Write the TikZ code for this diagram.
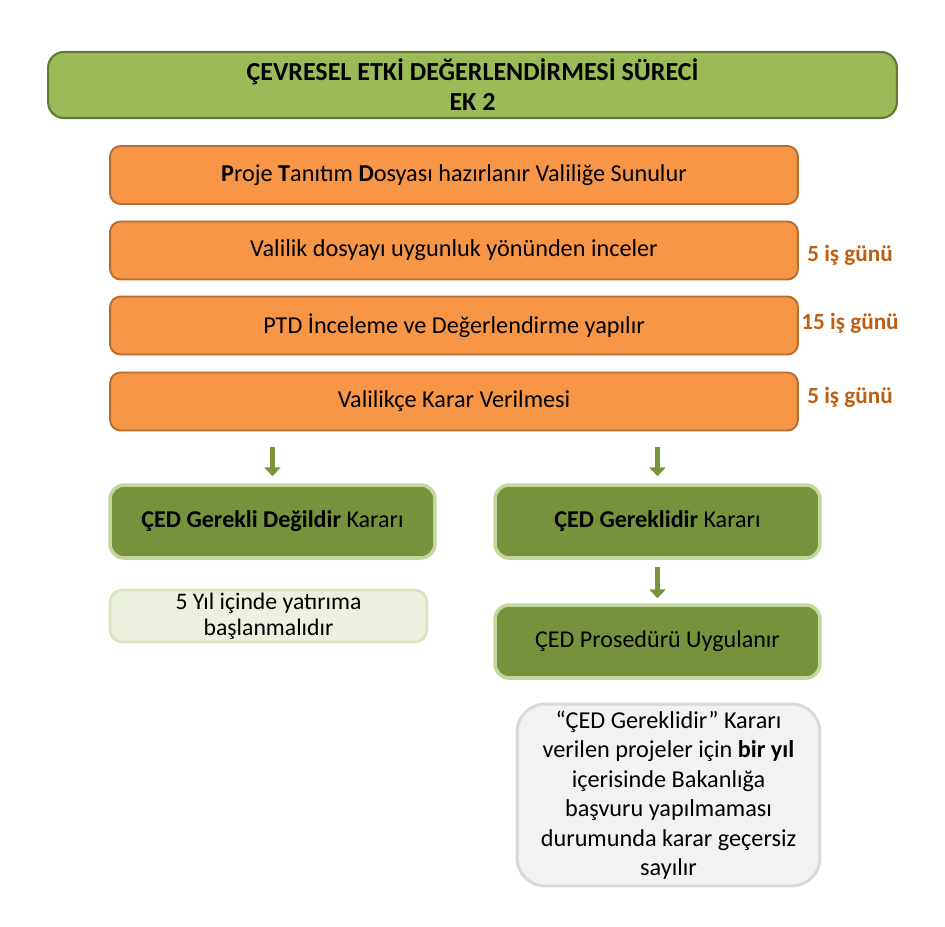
\documentclass[tikz,border=0pt]{standalone}
\usepackage{fontspec}
\setmainfont{Carlito}
\usetikzlibrary{arrows.meta,positioning}
\definecolor{titleGreen}{HTML}{9BBB59}
\definecolor{titleEdge}{HTML}{627A33}
\definecolor{stepOrange}{HTML}{F79646}
\definecolor{stepEdge}{HTML}{B66D31}
\definecolor{dayText}{HTML}{BD5E12}
\definecolor{decGreen}{HTML}{76923C}
\definecolor{decEdge}{HTML}{C3D69B}
\definecolor{noteFill}{HTML}{EBF1DE}
\definecolor{noteEdge}{HTML}{D7E4BD}
\definecolor{warnFill}{HTML}{F2F2F2}
\definecolor{warnEdge}{HTML}{D9D9D9}
\definecolor{arrGreen}{HTML}{77933C}

\begin{document}
\begin{tikzpicture}[x=0.02cm,y=-0.02cm,
  titlebox/.style={draw=titleEdge,line width=1.2pt,fill=titleGreen,rounded corners=9pt,
    minimum width=16.98cm,minimum height=1.32cm,align=center,inner sep=1pt,
    font=\fontsize{14.8}{17.2}\selectfont\bfseries},
  stepbox/.style={draw=stepEdge,line width=1.1pt,fill=stepOrange,rounded corners=6pt,
    minimum width=13.76cm,minimum height=1.16cm,align=center,
    font=\fontsize{13.8}{16}\selectfont},
  days/.style={text=dayText,font=\fontsize{13.2}{15}\selectfont\bfseries,inner sep=0pt},
  decbox/.style={draw=decEdge,line width=2pt,fill=decGreen,rounded corners=8pt,
    minimum width=6.5cm,minimum height=1.46cm,align=center,
    font=\fontsize{13.7}{16}\selectfont},
  notebox/.style={draw=noteEdge,line width=1.6pt,fill=noteFill,rounded corners=7pt,
    minimum width=6.34cm,minimum height=1.04cm,align=center,inner sep=0pt,
    font=\fontsize{13.5}{14.8}\selectfont},
  warnbox/.style={draw=warnEdge,line width=1.7pt,fill=warnFill,rounded corners=16pt,
    minimum width=6.06cm,minimum height=3.64cm,align=center,inner sep=1pt,
    font=\fontsize{13.8}{16.8}\selectfont},
  arr/.style={-{Triangle[width=9pt,length=5pt]},arrGreen,line width=2.5pt}
]
  \useasboundingbox (0,0) rectangle (945,926);
  \node[titlebox] (title) at (472.5,85) {ÇEVRESEL ETKİ DEĞERLENDİRMESİ SÜRECİ\\EK 2};

  \node[stepbox] (ptd) at (454,175) {\textbf{P}roje \textbf{T}anıtım \textbf{D}osyası hazırlanır Valiliğe Sunulur};
  \node[stepbox] (check) at (454,250.5) {Valilik dosyayı uygunluk yönünden inceler};
  \node[stepbox] (review) at (454,325.5) {PTD İnceleme ve Değerlendirme yapılır};
  \node[stepbox] (decide) at (454,401.5) {Valilikçe Karar Verilmesi};

  \node[days] (d1) at (850,255) {5 iş günü};
  \node[days] (d2) at (850,323) {15 iş günü};
  \node[days] (d3) at (850,397) {5 iş günü};

  \node[decbox] (notreq) at (272.5,521.5) {\textbf{ÇED Gerekli Değildir} Kararı};
  \node[decbox] (req) at (657.5,521.5) {\textbf{ÇED Gereklidir} Kararı};
  \node[notebox] (fiveyr) at (268.5,616) {5 Yıl içinde yatırıma\\başlanmalıdır};
  \node[decbox] (proc) at (657.5,641.5) {ÇED Prosedürü Uygulanır};
  \node[warnbox] (warn) at (668.5,795) {“ÇED Gereklidir” Kararı\\verilen projeler için \textbf{bir yıl}\\içerisinde Bakanlığa\\başvuru yapılmaması\\durumunda karar geçersiz\\sayılır};

  \draw[arr,shorten <=0.32cm,shorten >=0.14cm] (notreq.north |- decide.south) -- (notreq.north);
  \draw[arr,shorten <=0.32cm,shorten >=0.14cm] (req.north |- decide.south) -- (req.north);
  \draw[arr,shorten <=0.14cm,shorten >=0.1cm] (req) -- (proc);
\end{tikzpicture}
\end{document}
